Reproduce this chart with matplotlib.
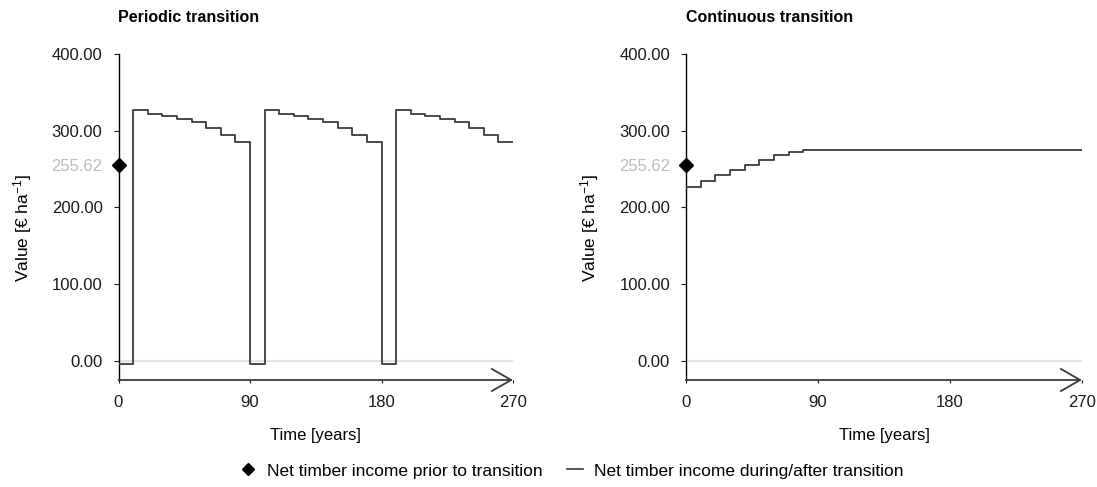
import matplotlib
matplotlib.use("Agg")
import matplotlib.pyplot as plt
from matplotlib.lines import Line2D

plt.rcParams['font.family'] = ['Liberation Sans', 'DejaVu Sans']
plt.rcParams['mathtext.fontset'] = 'custom'
plt.rcParams['mathtext.rm'] = 'Liberation Sans'
plt.rcParams['mathtext.it'] = 'Liberation Sans:italic'

# decade start years, values hold until the next start (last entry closes the line at 270)
decades = [0, 10, 20, 30, 40, 50, 60, 70, 80,
           90, 100, 110, 120, 130, 140, 150, 160, 170,
           180, 190, 200, 210, 220, 230, 240, 250, 260, 270]

# net timber income, EUR/ha
periodic = [-3.5, 326.5, 321.7, 319.0, 315.0, 311.5, 303.5, 294.0, 285.3,
            -3.5, 326.5, 321.7, 319.0, 315.0, 311.5, 303.5, 294.0, 285.3,
            -3.5, 326.5, 321.7, 319.0, 315.0, 311.5, 303.5, 294.0, 285.3, 285.3]
continuous = [227.0, 234.5, 242.2, 248.7, 255.6, 261.7, 268.0, 272.2, 275.2,
              275.2, 275.2, 275.2, 275.2, 275.2, 275.2, 275.2, 275.2, 275.2,
              275.2, 275.2, 275.2, 275.2, 275.2, 275.2, 275.2, 275.2, 275.2, 275.2]

prior_income = 255.62
titles = ["Periodic transition", "Continuous transition"]
series = [periodic, continuous]
xticks = [0, 90, 180, 270]
yticks = [0, 100, 200, 300, 400]

LINE = '#3a3a3a'
W, H = 1097, 487

fig = plt.figure(figsize=(W / 100, H / 100), dpi=100)
axes = [fig.add_axes([118.5 / W, 1 - 380 / H, 394.5 / W, 326 / H]),
        fig.add_axes([686 / W, 1 - 380 / H, 396 / W, 326 / H])]

for ax, title, vals in zip(axes, titles, series):
    ax.set_xlim(0, 270)
    ax.set_ylim(-25, 400)
    for s in ['top', 'right', 'bottom']:
        ax.spines[s].set_visible(False)
    ax.spines['left'].set_color('black')
    ax.spines['left'].set_linewidth(1.0)

    # light zero line
    ax.axhline(0, color='#e3e3e3', lw=1.6, zorder=0)

    ax.plot(decades, vals, drawstyle='steps-post', color=LINE, lw=1.3, zorder=3)
    ax.plot([0], [prior_income], marker='D', color='black', markersize=7,
            linestyle='none', zorder=5, clip_on=False)

    ax.set_yticks(yticks + [prior_income])
    ax.set_yticklabels(["%.2f" % v for v in yticks] + ["%.2f" % prior_income])
    ax.set_xticks(xticks)
    ax.set_xticklabels([str(v) for v in xticks])
    ax.tick_params(axis='y', direction='out', length=3.5, width=0.8, pad=8,
                   labelsize=12, colors='#1a1a1a')
    ax.tick_params(axis='x', direction='out', length=2.5, width=0.8, pad=8,
                   labelsize=12, colors='#1a1a1a')
    ax.get_yticklabels()[-1].set_color('#bcbcbc')

    # x axis drawn as an open-headed arrow
    ax.annotate('', xy=(1, 0), xytext=(0, 0), xycoords='axes fraction',
                textcoords='axes fraction', annotation_clip=False,
                arrowprops=dict(arrowstyle='->,head_length=0.7,head_width=0.4',
                                mutation_scale=20, color=LINE, lw=1.3,
                                shrinkA=0, shrinkB=0))

    ax.set_xlabel("Time [years]", fontsize=12)
    ax.xaxis.set_label_coords(0.5, -0.147)
    ax.set_ylabel(r"Value [€ ha$^{-1}$]", fontsize=12.5)
    ax.yaxis.set_label_coords(-0.215, 0.466)
    ax.text(0, 1.113, title, transform=ax.transAxes, fontsize=11.5,
            fontweight='bold', ha='left', va='center')

handles = [Line2D([], [], marker='D', color='black', linestyle='none', markersize=6),
           Line2D([], [], color=LINE, lw=1.2)]
labels = ["Net timber income prior to transition",
          "Net timber income during/after transition"]
fig.legend(handles, labels, loc='center', bbox_to_anchor=(0.521, 0.033), ncol=2,
           frameon=False, fontsize=12.5, handlelength=0.95, handletextpad=0.6,
           columnspacing=1.4)

fig.savefig("out.png", dpi=100)
